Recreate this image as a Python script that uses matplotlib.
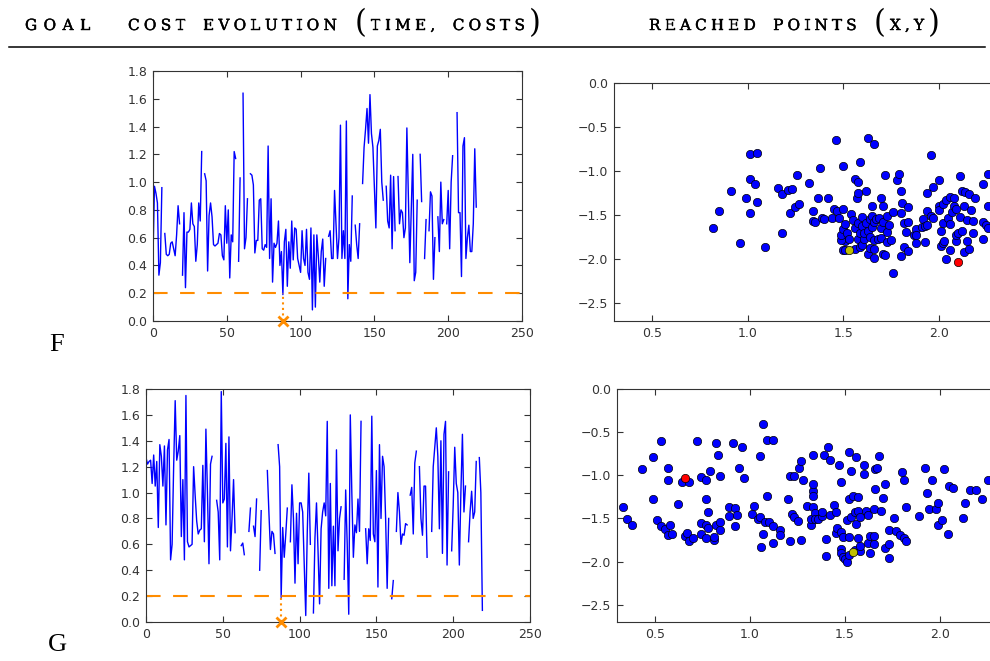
import numpy as np
import matplotlib
matplotlib.use('Agg')
import matplotlib.pyplot as plt
import matplotlib.patheffects as pe

nan = np.nan

# cost per time step, gaps are steps without a valid cost
f_cost = [0.46, 0.97, 0.92, 0.85, 0.33, 0.42, 0.96, nan, 0.63, 0.48,
          0.47, 0.48, 0.56, 0.57, 0.52, 0.47, 0.62, 0.83, 0.70, nan,
          0.33, 0.78, 0.24, 0.64, 0.64, 0.66, 0.85, 0.70, 0.68, 0.43,
          0.55, 0.85, 0.72, 1.22, nan, 1.06, 1.01, 0.36, 0.76, 0.85,
          0.75, 0.55, 0.54, 0.55, 0.56, 0.63, 0.62, 0.47, 0.44, 0.83,
          0.56, 0.80, 0.31, 0.62, 0.57, 1.22, 1.17, nan, 0.43, 1.03,
          nan, 1.64, 0.52, 0.60, 0.88, nan, 1.06, 1.05, 0.98, 0.49,
          0.58, 0.58, 0.87, 0.88, 0.52, 0.51, 0.55, 0.53, 1.26, 0.45,
          0.88, 0.28, 0.56, 0.53, 0.56, 0.72, 0.40, 0.50, 0.19, 0.57,
          0.66, 0.25, 0.57, 0.38, 0.72, 0.44, 0.67, 0.66, 0.45, 0.40,
          0.35, 0.65, 0.45, 0.40, 0.66, 0.35, 0.30, 0.67, 0.08, 0.62,
          0.10, 0.62, 0.47, 0.28, 0.50, 0.59, 0.25, 0.45, nan, 0.61,
          0.65, 0.45, 0.45, 0.94, 0.70, 0.45, 0.60, 1.41, 0.45, 0.65,
          0.45, 1.44, 0.16, 0.55, 0.43, 0.90, nan, 0.69, 0.55, 0.45,
          0.70, nan, 0.99, 1.25, 1.38, 1.53, 1.28, 1.63, 1.35, 1.25,
          0.95, 0.67, 1.26, 1.30, 1.38, 1.00, 0.87, nan, 0.97, 0.72,
          0.67, 1.05, 0.52, 1.04, 0.65, nan, 1.04, 0.70, 0.80, 0.78,
          0.60, 0.67, 1.39, 0.90, 0.42, 0.80, 1.20, 0.29, 0.35, 0.87,
          nan, 1.20, 0.86, nan, 0.45, 0.73, nan, 0.65, 0.93, 0.90,
          0.30, 0.60, nan, 0.75, 0.50, 1.00, 0.70, 0.73, nan, 0.70,
          0.94, 0.52, 1.00, 1.19, nan, nan, 1.50, 0.78, 0.78, 0.32,
          1.26, 1.32, 0.45, 0.60, 0.69, 0.50, 0.50, 0.70, 1.24, 0.82]

g_cost = [1.27, 1.22, 1.24, 1.25, 1.07, 1.29, 1.05, 1.24, 0.73, 1.37,
          1.28, 1.05, 1.36, 0.75, 1.33, 1.41, 0.48, 0.60, 1.20, 1.71,
          1.25, 1.32, 1.44, 0.66, 1.10, 0.48, 1.75, 0.62, 0.58, 0.59,
          0.60, 1.20, 0.98, 0.78, 0.68, 0.71, 0.72, 1.21, 0.62, 1.49,
          1.00, 0.45, 1.22, 1.28, nan, nan, 0.94, 0.85, 0.48, 1.78,
          0.92, 0.95, 1.38, 0.58, 1.43, 0.55, 0.80, 1.10, 0.69, nan,
          nan, nan, 0.59, 0.61, 0.52, nan, nan, 0.70, 0.88, nan,
          0.74, 0.66, 0.95, nan, 0.40, 0.86, nan, nan, nan, 1.17,
          0.85, 0.56, 0.70, 0.68, 0.53, nan, 1.37, 1.20, 0.19, 0.73,
          0.50, 0.68, 0.88, nan, 0.62, 1.06, 0.80, 0.30, 0.84, 0.45,
          0.92, 0.92, 0.85, 0.45, 0.05, 0.70, 1.15, 0.60, nan, 0.07,
          0.65, 0.92, 0.55, 0.14, 0.72, 0.85, 0.92, 0.82, 1.55, 0.26,
          1.07, 0.28, 0.74, 0.28, 1.33, 0.55, 0.80, 0.89, nan, 0.33,
          1.02, 0.60, 0.06, 1.60, 1.00, 0.50, 0.75, 0.69, 0.95, 0.70,
          1.55, nan, nan, 0.72, 0.45, 0.72, 0.63, 1.59, 0.68, 0.62,
          1.17, 0.27, 1.37, 0.80, 1.28, 1.20, 0.80, 0.26, 0.80, nan,
          0.18, 0.32, nan, 0.70, 1.00, 0.85, 0.60, 0.68, 0.67, 0.76,
          0.75, nan, 0.98, 1.04, 0.68, 1.23, 1.32, nan, 1.20, 0.80,
          0.67, 1.05, 1.05, 0.50, nan, nan, 0.70, 1.20, 1.35, 1.50,
          1.28, 0.72, 1.40, 0.53, 1.45, 1.55, 0.44, 1.16, nan, 0.55,
          0.90, 1.35, 1.07, 1.00, 0.44, 1.00, 1.45, 0.85, 1.05, nan,
          0.62, 0.85, 1.01, 0.80, 0.85, 1.24, nan, 1.27, 1.00, 0.09]

goal_cost = 0.2

# reached (x, y) points
f_points = [(0.82, -1.65), (0.85, -1.45), (0.91, -1.23), (0.96, -1.82), (0.99, -1.31), (1.01, -1.09),
            (1.01, -1.47), (1.01, -0.81), (1.04, -1.15), (1.05, -0.79), (1.05, -1.35), (1.09, -1.86),
            (1.16, -1.19), (1.18, -1.70), (1.18, -1.26), (1.21, -1.21), (1.23, -1.20), (1.22, -1.48),
            (1.25, -1.41), (1.26, -1.04), (1.27, -1.37), (1.32, -1.13), (1.34, -1.45), (1.34, -1.57),
            (1.35, -1.58), (1.37, -1.30), (1.38, -0.96), (1.39, -1.53), (1.40, -1.54), (1.42, -1.31),
            (1.44, -1.53), (1.45, -1.43), (1.46, -0.65), (1.47, -1.45), (1.48, -1.53), (1.50, -0.94),
            (1.50, -1.43), (1.51, -1.79), (1.49, -1.78), (1.50, -1.90), (1.49, -1.73), (1.50, -1.66),
            (1.51, -1.90), (1.51, -1.60), (1.52, -1.70), (1.53, -1.77), (1.54, -1.49), (1.55, -1.55),
            (1.56, -1.88), (1.56, -1.09), (1.56, -1.65), (1.57, -1.31), (1.58, -1.59), (1.58, -1.77),
            (1.58, -1.12), (1.58, -1.25), (1.59, -0.90), (1.59, -1.86), (1.59, -1.70), (1.60, -1.62),
            (1.60, -1.84), (1.60, -1.52), (1.61, -1.77), (1.61, -1.70), (1.62, -1.59), (1.62, -1.23),
            (1.63, -0.62), (1.63, -1.94), (1.63, -1.68), (1.64, -1.87), (1.64, -1.54), (1.64, -1.75),
            (1.65, -1.63), (1.65, -1.51), (1.65, -1.39), (1.66, -1.88), (1.66, -1.78), (1.66, -1.99),
            (1.66, -0.69), (1.66, -1.58), (1.67, -1.54), (1.68, -1.77), (1.69, -1.53), (1.70, -1.31),
            (1.70, -1.64), (1.70, -1.76), (1.71, -1.94), (1.71, -1.40), (1.71, -1.58), (1.72, -1.95),
            (1.72, -1.04), (1.73, -1.69), (1.73, -1.80), (1.73, -1.51), (1.74, -1.61), (1.75, -1.78),
            (1.76, -2.15), (1.76, -1.46), (1.78, -1.10), (1.79, -1.03), (1.80, -1.96), (1.80, -1.22),
            (1.80, -1.48), (1.81, -1.36), (1.82, -1.86), (1.82, -1.59), (1.83, -1.69), (1.84, -1.58),
            (1.84, -1.41), (1.84, -1.91), (1.87, -1.73), (1.88, -1.66), (1.88, -1.81), (1.88, -1.72),
            (1.91, -1.63), (1.92, -1.54), (1.93, -1.62), (1.93, -1.80), (1.94, -1.25), (1.94, -1.45),
            (1.94, -1.61), (1.96, -0.82), (1.96, -1.51), (1.97, -1.18), (1.97, -1.53), (2.00, -1.10),
            (2.00, -1.40), (2.01, -1.68), (2.01, -1.85), (2.00, -1.44), (2.02, -1.59), (2.02, -1.37),
            (2.02, -1.81), (2.03, -1.79), (2.04, -2.00), (2.04, -1.33), (2.05, -1.53), (2.06, -1.29),
            (2.06, -1.90), (2.06, -1.60), (2.07, -1.46), (2.08, -1.30), (2.08, -1.40), (2.09, -1.79),
            (2.09, -1.73), (2.09, -1.43), (2.10, -1.70), (2.11, -1.06), (2.11, -1.52), (2.12, -1.23),
            (2.12, -1.68), (2.13, -1.92), (2.13, -1.40), (2.14, -1.24), (2.15, -1.79), (2.15, -1.55),
            (2.16, -1.26), (2.16, -1.88), (2.17, -1.44), (2.18, -1.57), (2.18, -1.70), (2.19, -1.31),
            (2.23, -1.77), (2.23, -1.15), (2.23, -1.58), (2.25, -1.61), (2.26, -1.03), (2.26, -1.40),
            (2.26, -1.65)]
f_start = (1.53, -1.90)
f_goal = (2.10, -2.03)

g_points = [(0.33, -1.37), (0.35, -1.51), (0.38, -1.58), (0.43, -0.93), (0.49, -0.79), (0.49, -1.27),
            (0.51, -1.52), (0.53, -0.60), (0.53, -1.59), (0.55, -1.62), (0.57, -1.69), (0.57, -0.91),
            (0.57, -1.05), (0.58, -1.58), (0.59, -1.68), (0.62, -1.33), (0.64, -1.08), (0.66, -1.70),
            (0.67, -1.67), (0.68, -1.08), (0.68, -1.76), (0.70, -1.73), (0.72, -0.60), (0.74, -1.02),
            (0.74, -1.55), (0.74, -1.68), (0.77, -1.73), (0.77, -1.06), (0.77, -1.27), (0.77, -1.58),
            (0.78, -1.61), (0.78, -1.42), (0.79, -0.95), (0.81, -1.75), (0.81, -1.71), (0.82, -0.62),
            (0.82, -1.58), (0.83, -0.77), (0.84, -1.01), (0.84, -1.54), (0.84, -1.63), (0.89, -1.37),
            (0.89, -1.47), (0.91, -0.63), (0.92, -1.38), (0.92, -1.59), (0.93, -1.46), (0.94, -0.92),
            (0.96, -0.67), (0.97, -1.03), (1.01, -1.45), (1.02, -1.35), (1.04, -1.51), (1.05, -0.78),
            (1.05, -1.48), (1.07, -1.68), (1.06, -1.83), (1.07, -0.41), (1.08, -1.54), (1.09, -1.24),
            (1.09, -0.59), (1.10, -1.54), (1.12, -0.59), (1.12, -1.78), (1.12, -1.59), (1.16, -1.63),
            (1.16, -1.69), (1.20, -1.27), (1.21, -1.01), (1.21, -1.76), (1.22, -1.45), (1.23, -1.01),
            (1.23, -1.48), (1.25, -1.53), (1.26, -0.91), (1.27, -1.75), (1.27, -0.83), (1.28, -1.06),
            (1.30, -1.36), (1.32, -1.58), (1.32, -1.51), (1.33, -0.76), (1.33, -1.37), (1.33, -1.18),
            (1.33, -1.10), (1.33, -1.24), (1.34, -1.44), (1.34, -1.51), (1.36, -1.51), (1.38, -1.47),
            (1.38, -1.42), (1.39, -0.77), (1.40, -1.74), (1.40, -1.93), (1.41, -0.67), (1.42, -1.46),
            (1.42, -0.82), (1.44, -1.34), (1.45, -1.67), (1.45, -1.42), (1.46, -1.61), (1.47, -0.88),
            (1.48, -1.85), (1.48, -1.08), (1.48, -1.66), (1.48, -1.90), (1.49, -1.71), (1.49, -1.95),
            (1.50, -1.97), (1.51, -2.00), (1.51, -1.52), (1.52, -1.27), (1.52, -0.73), (1.52, -1.92),
            (1.52, -1.71), (1.53, -0.95), (1.53, -1.48), (1.54, -1.24), (1.55, -1.87), (1.55, -1.43),
            (1.56, -1.57), (1.56, -0.79), (1.57, -1.73), (1.57, -1.25), (1.57, -1.41), (1.58, -1.88),
            (1.58, -1.82), (1.58, -1.48), (1.60, -0.88), (1.60, -0.99), (1.61, -1.41), (1.62, -1.79),
            (1.62, -1.46), (1.63, -1.70), (1.63, -1.90), (1.65, -1.39), (1.65, -1.70), (1.65, -1.80),
            (1.66, -1.16), (1.66, -0.93), (1.67, -0.91), (1.68, -0.78), (1.69, -1.41), (1.70, -1.26),
            (1.71, -1.84), (1.71, -1.10), (1.73, -1.80), (1.73, -1.96), (1.73, -1.63), (1.76, -1.49),
            (1.77, -1.64), (1.79, -1.69), (1.80, -0.96), (1.81, -1.05), (1.81, -1.73), (1.82, -1.37),
            (1.82, -1.76), (1.89, -1.47), (1.92, -0.92), (1.93, -1.21), (1.94, -1.39), (1.96, -1.06),
            (1.98, -1.39), (1.99, -1.32), (1.99, -1.58), (2.01, -1.52), (2.02, -0.93), (2.04, -1.68),
            (2.05, -1.12), (2.07, -1.15), (2.12, -1.50), (2.13, -1.32), (2.16, -1.17), (2.19, -1.17),
            (2.22, -1.27), (2.25, -1.05)]
g_start = (1.54, -1.89)
g_goal = (0.66, -1.03)

rows = [('F', f_cost, f_points, f_start, f_goal),
        ('G', g_cost, g_points, g_start, g_goal)]

plt.rcParams['font.family'] = 'DejaVu Sans'
plt.rcParams['xtick.direction'] = 'in'
plt.rcParams['ytick.direction'] = 'in'
plt.rcParams['xtick.top'] = True
plt.rcParams['ytick.right'] = True
plt.rcParams['xtick.major.size'] = 4
plt.rcParams['ytick.major.size'] = 4
plt.rcParams['xtick.major.pad'] = 4
plt.rcParams['ytick.major.pad'] = 4
plt.rcParams['xtick.labelsize'] = 9
plt.rcParams['ytick.labelsize'] = 9
plt.rcParams['xtick.color'] = '0.2'
plt.rcParams['ytick.color'] = '0.2'
plt.rcParams['axes.edgecolor'] = '0.2'

W, H = 990, 661
fig = plt.figure(figsize=(W / 100, H / 100), dpi=100)

def box(left, top, right, bottom):
    # pixel box -> figure fraction rect
    return [left / W, 1 - bottom / H, (right - left) / W, (bottom - top) / H]

cost_boxes = [box(153, 71, 522, 321), box(146, 389, 530, 622)]
point_boxes = [box(614, 83, 614 + 2.4 * 191, 321), box(617, 389, 617 + 2.4 * 190, 622)]
label_y = [351, 651]

for (name, cost, points, start, goal), cb, pb, ly in zip(rows, cost_boxes, point_boxes, label_y):
    cost = np.array(cost)
    t = np.arange(len(cost))

    ax = fig.add_axes(cb)
    ax.plot(t, cost, color='b', lw=1)
    ax.axhline(goal_cost, color='darkorange', lw=1.5, ls=(0, (7, 6)))
    hit = t[np.nan_to_num(cost, nan=9) <= goal_cost][0]
    ax.plot([hit, hit], [0, goal_cost], color='darkorange', lw=1.5, ls=':')
    ax.plot(hit, 0, marker='x', color='darkorange', ms=7, mew=2, clip_on=False, zorder=5)
    ax.set_xlim(0, 250)
    ax.set_ylim(0, 1.8)
    ax.set_xticks(range(0, 251, 50))
    ax.set_yticks(np.arange(0, 1.81, 0.2))

    ax2 = fig.add_axes(pb)
    px, py = zip(*points)
    ax2.scatter(px, py, s=36, c='b', edgecolors='k', linewidths=0.5, zorder=3)
    ax2.scatter([start[0]], [start[1]], s=36, c='y', edgecolors='k', linewidths=0.5, zorder=4)
    ax2.scatter([goal[0]], [goal[1]], s=36, c='r', edgecolors='k', linewidths=0.5, zorder=4)
    ax2.set_xlim(0.3, 2.7)
    ax2.set_ylim(-2.7, 0)
    ax2.set_xticks([0.5, 1.0, 1.5, 2.0])
    ax2.set_yticks([0.0, -0.5, -1.0, -1.5, -2.0, -2.5])

    fig.text(57 / W, 1 - ly / H, name, ha='center', va='baseline',
             fontsize=19, family='Liberation Serif')

# header, letter-spaced caps
renderer = fig.canvas.get_renderer()
bolder = [pe.withStroke(linewidth=0.3, foreground='k')]

def header(text, x0, x1, base):
    parts = []
    for ch in text:
        if ch == ' ':
            parts.append((None, 9))
            continue
        paren = ch in '()'
        tx = fig.text(0, 1 - (base + 1.7 * paren) / H, ch, fontsize=22 if paren else 11,
                      family='DejaVu Serif', va='baseline', ha='left',
                      path_effects=None if paren else bolder)
        parts.append((tx, tx.get_window_extent(renderer).width))
    track = (x1 - x0 - sum(w for _, w in parts)) / (len(parts) - 1)
    x = x0
    for tx, w in parts:
        if tx is not None:
            tx.set_x(x / W)
        x += w + track

header('GOAL', 25, 90, 30)
header('COST EVOLUTION (TIME, COSTS)', 128, 541, 30)
header('REACHED POINTS (X,Y)', 649, 940, 30)
fig.add_artist(plt.Line2D([9 / W, 985 / W], [1 - 46.5 / H, 1 - 46.5 / H], color='k', lw=1.1))

fig.savefig('out.png', dpi=100)
